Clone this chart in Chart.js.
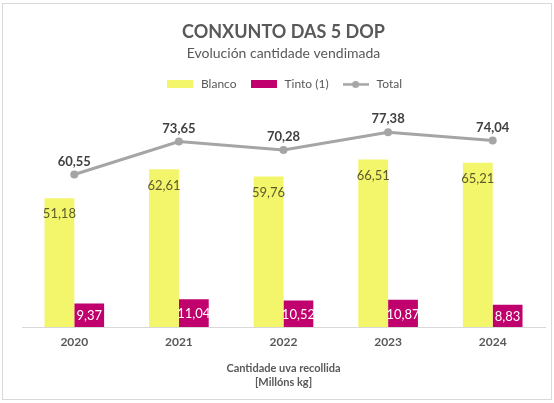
<!DOCTYPE html>
<html>
<head>
<meta charset="utf-8">
<script src="https://cdn.jsdelivr.net/npm/chart.js@4.4.1/dist/chart.umd.min.js"></script>
<style>
  html, body { margin: 0; padding: 0; background: #fff; }
  #wrap { width: 554px; height: 403px; position: relative; }
</style>
</head>
<body>
<div id="wrap"><canvas id="myChart" width="554" height="403"></canvas></div>
<script>
const anos = ["2020", "2021", "2022", "2023", "2024"];
const blanco = [51.18, 62.61, 59.76, 66.51, 65.21];
const tinto = [9.37, 11.04, 10.52, 10.87, 8.83];
const total = [60.55, 73.65, 70.28, 77.38, 74.04];

const FONT = "Lato, 'Open Sans', sans-serif";
const AMARELO = '#F3F56B';
const MAXENTA = '#C0006C';
const GRIS = '#A5A5A5';

function fmt(v) {
  return v.toFixed(2).replace('.', ',');
}

// iconas da lenda
function iconaCaixa(cor) {
  const c = document.createElement('canvas');
  c.width = 26; c.height = 8;
  const ctx = c.getContext('2d');
  ctx.fillStyle = cor;
  ctx.fillRect(0, 0, 26, 8);
  return c;
}
function iconaLina() {
  const c = document.createElement('canvas');
  c.width = 26; c.height = 9;
  const ctx = c.getContext('2d');
  ctx.strokeStyle = GRIS;
  ctx.lineWidth = 2.5;
  ctx.beginPath(); ctx.moveTo(0, 4.5); ctx.lineTo(26, 4.5); ctx.stroke();
  ctx.fillStyle = GRIS;
  ctx.beginPath(); ctx.arc(13, 4.5, 3.5, 0, Math.PI * 2); ctx.fill();
  return c;
}

const etiquetas = {
  id: 'etiquetas',
  afterDatasetsDraw(chart) {
    const ctx = chart.ctx;
    ctx.save();
    ctx.textAlign = 'center';
    ctx.textBaseline = 'middle';
    // Blanco: dentro, arriba
    chart.getDatasetMeta(1).data.forEach(function(el, i) {
      ctx.font = '13px ' + FONT;
      ctx.fillStyle = '#5B5B2E';
      ctx.fillText(fmt(blanco[i]), el.x, el.y + 16);
    });
    // Tinto: dentro, centro
    chart.getDatasetMeta(2).data.forEach(function(el, i) {
      ctx.font = '13px ' + FONT;
      ctx.fillStyle = '#ffffff';
      ctx.fillText(fmt(tinto[i]), el.x, (el.y + el.base) / 2 + 1);
    });
    // Total: enriba do punto
    chart.getDatasetMeta(0).data.forEach(function(el, i) {
      ctx.font = 'bold 13px ' + FONT;
      ctx.fillStyle = '#404040';
      ctx.fillText(fmt(total[i]), el.x, el.y - 13);
    });
    ctx.restore();
  }
};

const marco = {
  id: 'marco',
  afterDraw(chart) {
    const ctx = chart.ctx;
    ctx.save();
    ctx.strokeStyle = '#D9D9D9';
    ctx.lineWidth = 1;
    ctx.strokeRect(2.5, 3.5, 549, 396);
    ctx.restore();
  }
};

const myChart = new Chart("myChart", {
  type: "bar",
  data: {
    labels: anos,
    datasets: [{
      type: 'line',
      label: 'Total',
      data: total,
      borderColor: GRIS,
      backgroundColor: GRIS,
      borderWidth: 3,
      pointRadius: 4,
      pointBackgroundColor: GRIS,
      pointBorderWidth: 0,
      tension: 0,
      order: 0
    }, {
      label: 'Blanco',
      data: blanco,
      backgroundColor: AMARELO,
      barPercentage: 1,
      categoryPercentage: 0.57,
      order: 1
    }, {
      label: 'Tinto (1)',
      data: tinto,
      backgroundColor: MAXENTA,
      barPercentage: 1,
      categoryPercentage: 0.57,
      order: 1
    }]
  },
  options: {
    responsive: false,
    animation: false,
    layout: {
      padding: { left: 22, right: 9, top: 21, bottom: 13 }
    },
    scales: {
      x: {
        grid: { display: false },
        border: { color: '#D9D9D9', width: 1 },
        ticks: {
          color: '#595959',
          font: { family: FONT, size: 12, weight: 'bold' },
          padding: 0
        },
        title: {
          display: true,
          text: ['Cantidade uva recollida', '[Millóns kg]'],
          color: '#595959',
          font: { family: FONT, size: 11, weight: 'bold', lineHeight: 1.3 },
          padding: { top: 12, bottom: 0 }
        }
      },
      y: {
        display: false,
        min: 0,
        max: 90
      }
    },
    plugins: {
      title: {
        display: true,
        text: 'CONXUNTO DAS 5 DOP',
        color: '#595959',
        font: { family: FONT, size: 18, weight: 'bold' },
        padding: { top: 0, bottom: 2 }
      },
      subtitle: {
        display: true,
        text: 'Evolución cantidade vendimada',
        color: '#595959',
        font: { family: FONT, size: 14 },
        padding: { bottom: 5 }
      },
      legend: {
        position: 'top',
        labels: {
          usePointStyle: true,
          pointStyleWidth: 30,
          color: '#595959',
          font: { family: FONT, size: 12 },
          padding: 12,
          generateLabels(chart) {
            return [
              { text: 'Blanco', pointStyle: iconaCaixa(AMARELO), datasetIndex: 1, fontColor: '#595959', lineWidth: 0 },
              { text: 'Tinto (1)', pointStyle: iconaCaixa(MAXENTA), datasetIndex: 2, fontColor: '#595959', lineWidth: 0 },
              { text: 'Total', pointStyle: iconaLina(), datasetIndex: 0, fontColor: '#595959', lineWidth: 0 }
            ];
          }
        }
      },
      tooltip: { enabled: false }
    }
  },
  plugins: [etiquetas, marco]
});
</script>
</body>
</html>
